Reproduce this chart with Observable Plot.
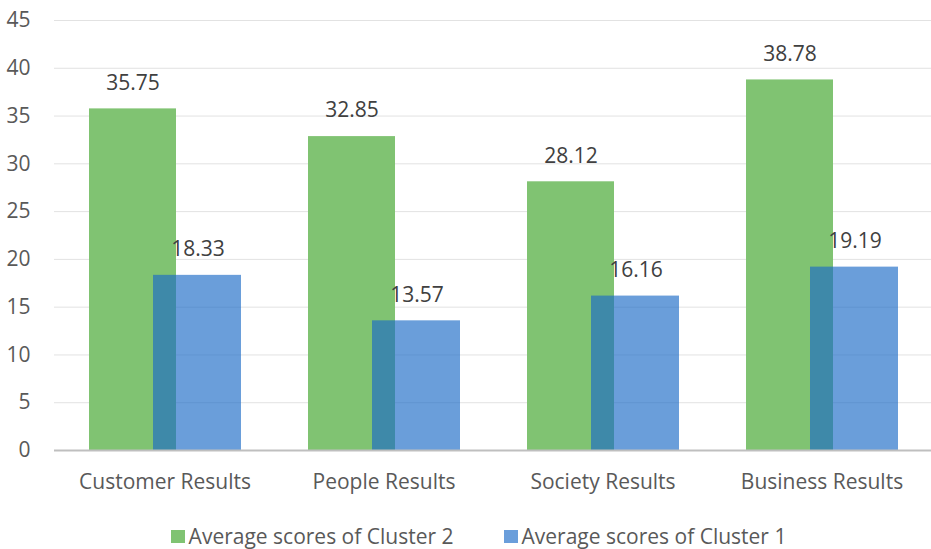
<!DOCTYPE html>
<html>
<head>
<meta charset="utf-8">
<script src="https://cdn.jsdelivr.net/npm/d3@7"></script>
<script src="https://cdn.jsdelivr.net/npm/@observablehq/plot@0.6"></script>
<style>
  body { margin: 0; background: #fff; font-family: "Open Sans", sans-serif; }
  #chart svg { display: block; }
  .legend { display: flex; justify-content: center; gap: 50px; font-size: 21px; color: #595959; margin-top: 18px; line-height: 26px; padding-left: 26px; }
  .legend span.item { display: flex; align-items: center; gap: 4px; }
  .legend span.sw { display: inline-block; width: 14px; height: 13px; }
</style>
</head>
<body>
<div id="chart"></div>
<div class="legend">
  <span class="item"><span class="sw" style="background:#80c372"></span>Average scores of Cluster 2</span>
  <span class="item"><span class="sw" style="background:#6a9edb"></span>Average scores of Cluster 1</span>
</div>
<script>
const categories = ["Customer Results", "People Results", "Society Results", "Business Results"];
const cluster2 = [35.75, 32.85, 28.12, 38.78];
const cluster1 = [18.33, 13.57, 16.16, 19.19];
const yTicks = [0, 5, 10, 15, 20, 25, 30, 35, 40, 45];

const d2 = categories.map((c, i) => ({category: c, value: cluster2[i]}));
const d1 = categories.map((c, i) => ({category: c, value: cluster1[i]}));

const chart = Plot.plot({
  width: 931,
  height: 505,
  marginTop: 20,
  marginBottom: 55,
  marginLeft: 54,
  marginRight: 0,
  style: {fontFamily: "'Open Sans', sans-serif", fontSize: "21px", color: "#595959", background: "#fff"},
  x: {domain: categories, padding: 0, label: null, tickSize: 0, tickPadding: 24},
  y: {domain: [0, 45], ticks: yTicks, label: null, tickSize: 0, tickPadding: 24},
  marks: [
    Plot.gridY(yTicks, {stroke: "#e2e2e2", strokeOpacity: 1, strokeWidth: 1}),
    Plot.barY(d2, {x: "category", y: "value", fill: "#80c372", insetLeft: 34, insetRight: 98}),
    Plot.barY(d1, {x: "category", y: "value", fill: "rgb(26,106,198)", fillOpacity: 0.65, insetLeft: 98, insetRight: 33}),
    Plot.ruleY([0], {stroke: "#bfbfbf", strokeWidth: 2}),
    Plot.text(d2, {x: "category", y: "value", text: d => d.value.toFixed(2), dx: -32, dy: -26, fill: "#404040", fontSize: 21}),
    Plot.text(d1, {x: "category", y: "value", text: d => d.value.toFixed(2), dx: 33, dy: -26, fill: "#404040", fontSize: 21})
  ]
});
document.getElementById("chart").append(chart);
</script>
</body>
</html>
